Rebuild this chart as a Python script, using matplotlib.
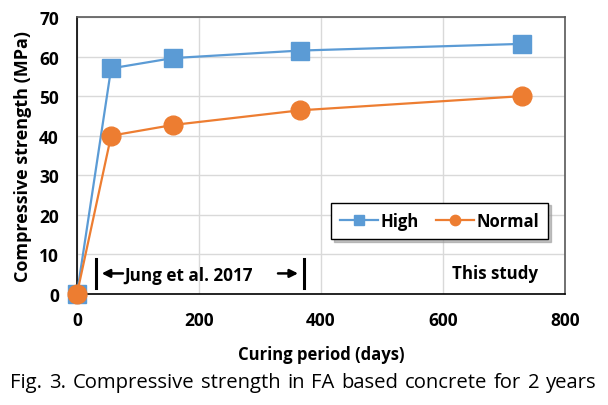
import matplotlib
matplotlib.use("Agg")
import matplotlib.pyplot as plt

plt.rcParams['font.family'] = ['Open Sans', 'DejaVu Sans']

days = [0, 56, 157, 365, 730]
high = [0, 57.0, 59.6, 61.5, 63.2]
normal = [0, 40.0, 42.7, 46.4, 50.0]
xticks = [0, 200, 400, 600, 800]
yticks = [0, 10, 20, 30, 40, 50, 60, 70]
caption = 'Fig. 3. Compressive strength in FA based concrete for 2 years'

fig = plt.figure(figsize=(6.08, 4.06), dpi=100)
ax = fig.add_axes([0.1266, 0.2734, 0.8026, 0.6824])

blue = '#5B9BD5'
orange = '#ED7D31'

ax.plot(days, high, color=blue, lw=1.6, marker='s', ms=13, mec=blue, mfc=blue,
        label='High', clip_on=False, zorder=3)
ax.plot(days, normal, color=orange, lw=1.6, marker='o', ms=13.5, mec=orange, mfc=orange,
        label='Normal', clip_on=False, zorder=4)

ax.set_xlim(0, 800)
ax.set_ylim(0, 70)
ax.set_xticks(xticks)
ax.set_yticks(yticks)
ax.grid(True, color='#d9d9d9', lw=1.0)
ax.set_axisbelow(True)
ax.tick_params(axis='x', length=0, labelsize=12.5, pad=12)
ax.tick_params(axis='y', length=0, labelsize=12.5, pad=13)
for lab in ax.get_xticklabels() + ax.get_yticklabels():
    lab.set_fontweight('bold')
for s in ['top', 'right']:
    ax.spines[s].set_color('#595959')
    ax.spines[s].set_linewidth(1.2)
for s in ['left', 'bottom']:
    ax.spines[s].set_color('black')
    ax.spines[s].set_linewidth(1.2)

ax.set_xlabel('Curing period (days)', fontsize=12, fontweight='bold', labelpad=12)
ax.set_ylabel('Compressive strength (MPa)', fontsize=13, fontweight='bold', labelpad=5)

# annotations
ax.plot([31, 31], [1.5, 8.8], color='black', lw=2.2)
ax.plot([373, 373], [1.5, 8.8], color='black', lw=2.2)
ax.annotate('', xy=(36, 5.2), xytext=(80, 5.2),
            arrowprops=dict(arrowstyle='-|>', color='black', lw=1.8, mutation_scale=12))
ax.annotate('', xy=(367, 5.2), xytext=(325, 5.2),
            arrowprops=dict(arrowstyle='-|>', color='black', lw=1.8, mutation_scale=12))
ax.text(77, 4.9, 'Jung et al. 2017', fontsize=12.3, fontweight='bold', va='center', ha='left')
ax.text(756, 5.2, 'This study', fontsize=12.2, fontweight='bold', va='center', ha='right')

leg = ax.legend(loc='upper left', bbox_to_anchor=(0.503, 0.36), ncol=2, frameon=True,
                fancybox=False, shadow={'color': '#9a9a9a', 'alpha': 0.6, 'ox': 2, 'oy': -2},
                fontsize=12, markerscale=0.55,
                handlelength=2.3, columnspacing=1.0, borderpad=0.55, handletextpad=0.15)
leg.get_frame().set_edgecolor('black')
leg.get_frame().set_linewidth(1.0)
for t in leg.get_texts():
    t.set_fontweight('bold')

# justified caption (words spread across the figure width)
renderer = fig.canvas.get_renderer()
words = caption.split(' ')
x_left, x_right = 10 / 608, 597 / 608
texts = [fig.text(0, 0.057, w, fontsize=14.6, ha='left', va='center') for w in words]
widths = [t.get_window_extent(renderer).width / fig.bbox.width for t in texts]
gap = (x_right - x_left - sum(widths)) / (len(words) - 1)
x = x_left
for t, w in zip(texts, widths):
    t.set_x(x)
    x += w + gap

fig.savefig('out.png', dpi=100)
